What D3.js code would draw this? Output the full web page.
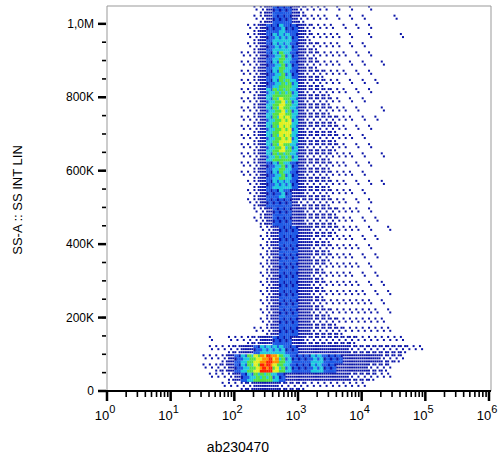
<!DOCTYPE html>
<html>
<head>
<meta charset="utf-8">
<title>SS-A vs ab230470</title>
<style>
  body { margin: 0; background: #fff; }
  text { font-family: "Liberation Sans", Arial, sans-serif; }
</style>
</head>
<body>
<svg id="chart" width="500" height="470"></svg>
<script src="https://cdn.jsdelivr.net/npm/d3@7"></script>
<script>
// density grid: columns are log10(x) from 1.5 in 0.1 steps,
// rows are SS-A bins of 25K from 1050K downwards; digits are density levels 0-9
var xStartLog = 1.5, xStepLog = 0.1;
var yTop = 1050000, yStep = 25000;
var densityRows = [
  "0000000012344432111101010010000000000000",
  "000000001234443211110101010000100000",
  "000000012344544321111010101000",
  "00000001234555432111110100100001",
  "000000012345554322111101010000",
  "000000112345654322111110101000",
  "000000112345654322111101010010",
  "000000112345654322211110101000",
  "000000112345665322211101010100",
  "000000112356665322221110101000",
  "000000112356765322221101010000",
  "000000112356765322221110100010",
  "000000112356775322222111010100",
  "000000112356775322222110101000",
  "000000112356775322222111010000",
  "000000112356765322222110101000",
  "000000112356665322221111010010",
  "000000112345654322221110101000",
  "000000112345654322221111010000",
  "000000012345554322221110101010",
  "000000012344543322221111010000",
  "000000012344443222221110101000",
  "000000001234443322222111101000",
  "000000001234443322222111010100",
  "000000000123444332222111101001",
  "000000000123444332221111010100",
  "000000000123444332221111101000",
  "000000000123444332221111010100",
  "000000000123444332211111101000",
  "000000000123444332211111010100",
  "000000000123444332211111101010",
  "000000000123444332211111110101",
  "000000000123444332211111111010",
  "000000000123444332221111111101",
  "000000000123444332222111111110",
  "000000001123444332222211111111",
  "01001112233444332222222211111111",
  "01112233455554433333333222222222111",
  "111234567898654445544433333322210",
  "11223456799765444554433333222100",
  "011123456665433333333332222111",
  "000111223333222211111111110000"
];
var yMajorTicks = [0, 200000, 400000, 600000, 800000, 1000000];
var yTickLabels = ["0", "200K", "400K", "600K", "800K", "1,0M"];
var xMajorExp = [0, 1, 2, 3, 4, 5, 6];
var levelColors = ["#ffffff", "#0a14a8", "#0a14a8", "#0a14a8", "#1e5ae6", "#20c8e0", "#52e046", "#e0f020", "#ff9000", "#ff2000"];

var svg = d3.select("#chart");
var pLeft = 107, pRight = 489, pTop = 6, pBottom = 391;

var x = d3.scaleLog().domain([1, 1e6]).range([pLeft, pRight]);
var y = d3.scaleLinear().domain([0, 1048576]).range([pBottom, pTop]);

svg.append("clipPath").attr("id", "plotclip")
  .append("rect").attr("x", pLeft).attr("y", pTop).attr("width", pRight - pLeft).attr("height", pBottom - pTop);

var cells = [];
densityRows.forEach(function(row, r) {
  for (var c = 0; c < row.length; c++) {
    var lv = +row[c];
    if (lv > 0) cells.push({r: r, c: c, lv: lv});
  }
});

// each cell is split 3x3; sparse levels fill only part of it, in a fixed order
var subOrder = [4, 0, 8, 2, 6, 1, 7, 3, 5];
var subCount = [0, 2, 5, 9, 9, 9, 9, 9, 9, 9];

var g = svg.append("g").attr("clip-path", "url(#plotclip)");
cells.forEach(function(d) {
  var x0 = x(Math.pow(10, xStartLog + xStepLog * d.c));
  var x1 = x(Math.pow(10, xStartLog + xStepLog * (d.c + 1)));
  var y0 = y(yTop - yStep * d.r);
  var y1 = y(yTop - yStep * (d.r + 1));
  var w = (x1 - x0) / 3, h = (y1 - y0) / 3;
  var subs = subOrder.slice(0, subCount[d.lv]);
  g.selectAll(null).data(subs).enter().append("rect")
    .attr("x", function(s) { return x0 + (s % 3) * w; })
    .attr("y", function(s) { return y0 + Math.floor(s / 3) * h; })
    .attr("width", function() { return d.lv < 4 ? 2 : w + 0.2; })
    .attr("height", function() { return d.lv < 4 ? 2 : h + 0.2; })
    .attr("fill", function(s, i) {
      // a couple of speckles of the next lower level keep the grain
      return (d.lv >= 4 && (i == 3 || i == 7)) ? levelColors[d.lv - 1] : levelColors[d.lv];
    });
});

// frame
svg.append("path")
  .attr("d", "M" + pLeft + "," + pBottom + "V" + pTop + "H" + (pRight + 2) + "V" + pBottom)
  .attr("fill", "none").attr("stroke", "#999").attr("stroke-width", 1);
svg.append("line").attr("x1", pLeft - 2).attr("x2", pRight + 2).attr("y1", pBottom).attr("y2", pBottom)
  .attr("stroke", "#000").attr("stroke-width", 2);

// y axis ticks
var yMinor = d3.range(0, 1048576, 50000);
svg.selectAll(".ymin").data(yMinor).enter().append("line")
  .attr("x1", pLeft - 5).attr("x2", pLeft - 1)
  .attr("y1", function(d) { return y(d); }).attr("y2", function(d) { return y(d); })
  .attr("stroke", "#000").attr("stroke-width", 1.6);
svg.selectAll(".ymaj").data(yMajorTicks).enter().append("line")
  .attr("x1", pLeft - 9).attr("x2", pLeft - 1)
  .attr("y1", function(d) { return y(d); }).attr("y2", function(d) { return y(d); })
  .attr("stroke", "#000").attr("stroke-width", 2.5);
svg.selectAll(".ylab").data(yMajorTicks).enter().append("text")
  .attr("x", pLeft - 13).attr("y", function(d) { return y(d) + 4; })
  .attr("text-anchor", "end").attr("font-size", 12)
  .text(function(d, i) { return yTickLabels[i]; });

// x axis ticks
var xMinor = [];
xMajorExp.slice(0, -1).forEach(function(e) {
  for (var k = 2; k <= 9; k++) xMinor.push(k * Math.pow(10, e));
});
svg.selectAll(".xmin").data(xMinor).enter().append("line")
  .attr("x1", function(d) { return x(d); }).attr("x2", function(d) { return x(d); })
  .attr("y1", pBottom + 1).attr("y2", pBottom + 6)
  .attr("stroke", "#000").attr("stroke-width", 1.6);
svg.selectAll(".xmaj").data(xMajorExp).enter().append("line")
  .attr("x1", function(d) { return x(Math.pow(10, d)); }).attr("x2", function(d) { return x(Math.pow(10, d)); })
  .attr("y1", pBottom + 1).attr("y2", pBottom + 10)
  .attr("stroke", "#000").attr("stroke-width", 2.5);
var xl = svg.selectAll(".xlab").data(xMajorExp).enter().append("text")
  .attr("x", function(d) { return x(Math.pow(10, d)) - 2; }).attr("y", 420)
  .attr("text-anchor", "middle").attr("font-size", 13);
xl.append("tspan").text("10");
xl.append("tspan").attr("dy", -7).attr("font-size", 11).text(function(d) { return d; });

// titles
svg.append("text").attr("x", 238).attr("y", 452).attr("text-anchor", "middle")
  .attr("font-size", 14).text("ab230470");
svg.append("text").attr("transform", "translate(22,200) rotate(-90)").attr("text-anchor", "middle")
  .attr("font-size", 13).text("SS-A :: SS INT LIN");
</script>
</body>
</html>
